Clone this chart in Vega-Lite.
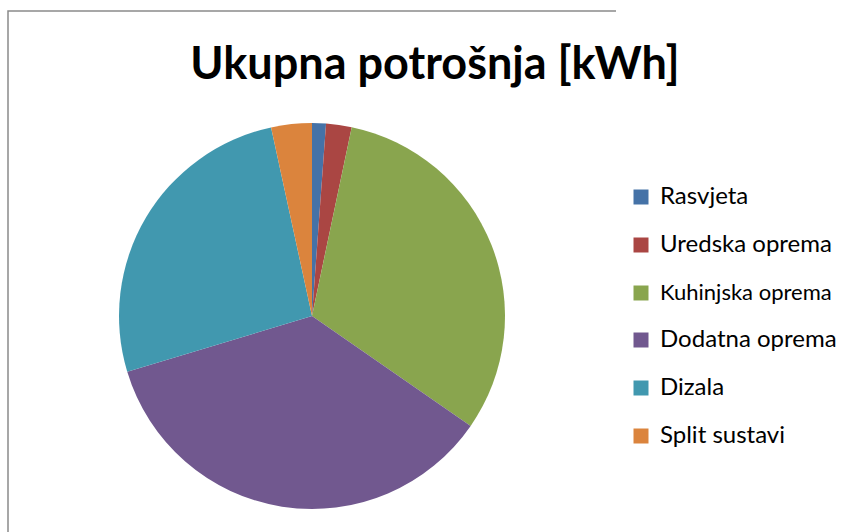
{
  "$schema": "https://vega.github.io/schema/vega-lite/v6.json",
  "autosize": "none",
  "width": 608,
  "height": 610,
  "padding": {"left": 8, "top": 11, "right": 232, "bottom": 0},
  "background": "white",
  "view": {"stroke": "#8a8a8a", "strokeWidth": 1.5, "strokeDash": [608, 1218, 610], "fill": null},
  "config": {
    "font": "Lato"
  },
  "title": {
    "text": "Ukupna potrošnja [kWh]",
    "font": "Lato",
    "fontSize": 45,
    "fontWeight": "bold",
    "color": "#000000",
    "anchor": "middle",
    "frame": "group",
    "offset": -77,
    "dx": 123
  },
  "data": {
    "values": [
      {"kategorija": "Rasvjeta", "potrosnja": 1.16, "redoslijed": 1},
      {"kategorija": "Uredska oprema", "potrosnja": 2.14, "redoslijed": 2},
      {"kategorija": "Kuhinjska oprema", "potrosnja": 31.34, "redoslijed": 3},
      {"kategorija": "Dodatna oprema", "potrosnja": 35.69, "redoslijed": 4},
      {"kategorija": "Dizala", "potrosnja": 26.27, "redoslijed": 5},
      {"kategorija": "Split sustavi", "potrosnja": 3.4, "redoslijed": 6}
    ]
  },
  "mark": {"type": "arc", "outerRadius": 193},
  "encoding": {
    "theta": {"field": "potrosnja", "type": "quantitative", "stack": true},
    "order": {"field": "redoslijed", "type": "quantitative"},
    "color": {
      "field": "kategorija",
      "type": "nominal",
      "scale": {
        "domain": ["Rasvjeta", "Uredska oprema", "Kuhinjska oprema", "Dodatna oprema", "Dizala", "Split sustavi"],
        "range": ["#4572A7", "#AA4643", "#89A54E", "#71588F", "#4198AF", "#DB843D"]
      },
      "legend": {
        "title": null,
        "orient": "none",
        "legendX": 621,
        "legendY": 174,
        "padding": 0,
        "symbolType": "square",
        "symbolSize": 225,
        "symbolStrokeWidth": 0,
        "labelFont": "Lato",
        "labelFontSize": 24,
        "labelColor": "#000000",
        "labelOffset": 7,
        "rowPadding": 24,
        "labelLimit": 400,
        "encode": {
          "labels": {
            "update": {
              "fontSize": {"signal": "datum.label === 'Kuhinjska oprema' ? 22 : 24"}
            }
          }
        }
      }
    }
  }
}
